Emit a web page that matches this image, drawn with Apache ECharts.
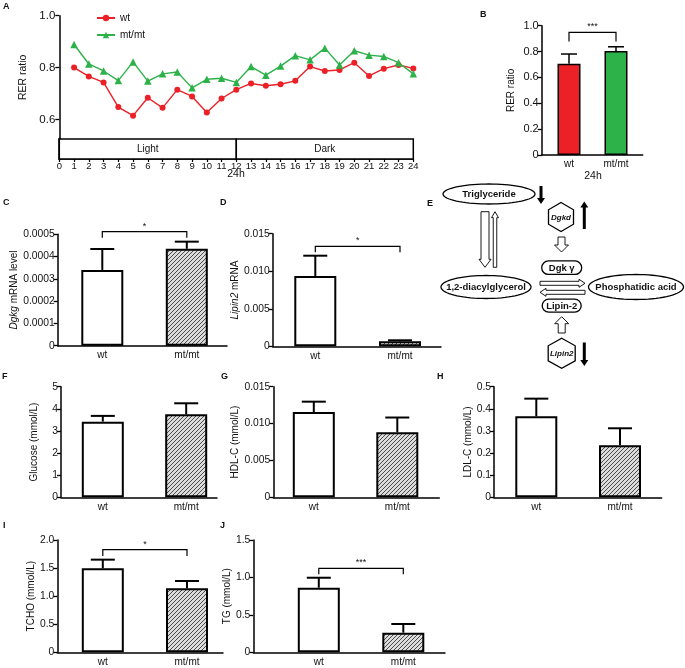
<!DOCTYPE html>
<html><head><meta charset="utf-8">
<script src="https://cdn.jsdelivr.net/npm/echarts@6/dist/echarts.min.js"></script>
<style>html,body{margin:0;padding:0;background:#fff}#c{width:685px;height:668px}</style>
</head><body><div id="c"></div>
<script>
// ---------------- DATA ----------------
const hours = [1,2,3,4,5,6,7,8,9,10,11,12,13,14,15,16,17,18,19,20,21,22,23,24];
const rerWt = [0.800,0.766,0.743,0.648,0.615,0.684,0.645,0.715,0.689,0.627,0.681,0.715,0.739,0.730,0.736,0.749,0.804,0.787,0.791,0.819,0.768,0.796,0.810,0.797];
const rerMt = [0.889,0.814,0.787,0.750,0.822,0.748,0.776,0.783,0.722,0.755,0.759,0.743,0.804,0.771,0.806,0.846,0.830,0.875,0.810,0.865,0.848,0.843,0.819,0.776];
const rerTicks = [0.6, 0.8, 1.0];
const hourTicks = [0,1,2,3,4,5,6,7,8,9,10,11,12,13,14,15,16,17,18,19,20,21,22,23,24];
const phases = ['Light', 'Dark'];
const phaseBounds = [[0, 12], [12, 24]];
const seriesNames = ['wt', 'mt/mt'];
const groups = ['wt', 'mt/mt'];

const rer24Mean = [0.705, 0.804];   const rer24Sem = [0.076, 0.033];
const dgkgMean = [0.00034, 0.000435]; const dgkgSem = [0.000094, 0.000032];
const lipin2Mean = [0.00937, 0.00067]; const lipin2Sem = [0.0027, 0.00013];
const glucoseMean = [3.42, 3.75];   const glucoseSem = [0.26, 0.50];
const hdlMean = [0.01157, 0.00882]; const hdlSem = [0.0014, 0.0020];
const ldlMean = [0.366, 0.235];     const ldlSem = [0.080, 0.077];
const tchoMean = [1.496, 1.14];     const tchoSem = [0.154, 0.13];
const tgMean = [0.863, 0.262];      const tgSem = [0.133, 0.116];

const sigRer24 = {y: 0.949, drop: 0.878, text: '***'};
const sigDgkg = {y: 0.000512, drop: 0.000485, text: '*'};
const sigLipin2 = {y: 0.01332, drop: 0.01252, text: '*'};
const sigTcho = {y: 1.827, drop: 1.715, text: '*'};
const sigTg = {y: 1.121, drop: 1.041, text: '***'};

// ---------------- STYLE ----------------
const FONT = 'Liberation Sans, Arial, sans-serif';
const RED = '#ec2027', GREEN = '#2db24a';
const hatch = document.createElement('canvas');
hatch.width = 4; hatch.height = 4;
(function(){
  const g = hatch.getContext('2d');
  g.fillStyle = '#dcdcdc'; g.fillRect(0,0,4,4);
  g.strokeStyle = '#4a4a4a'; g.lineWidth = 1;
  g.beginPath();
  g.moveTo(0,4); g.lineTo(4,0);
  g.moveTo(-1,1); g.lineTo(1,-1);
  g.moveTo(3,5); g.lineTo(5,3);
  g.stroke();
})();
const HATCH = {image: hatch, repeat: 'repeat'};

const panels = [
  {L:541.7, R:642.7, c1:569, c2:616, top:25.7, y0:155, max:1.0, interval:0.2, dec:1, barW:23, cap:8, bw:1.5,
   name:'RER ratio', gap:25, mean:rer24Mean, sem:rer24Sem, fills:[RED, GREEN], sig:sigRer24, labFs:11, catMargin:4},
  {L:57.7, R:227, c1:102.3, c2:186.8, top:234.3, y0:345.7, max:0.0005, interval:0.0001, dec:4, barW:42, cap:12, bw:2,
   name:'{i|Dgkg} mRNA level', gap:37, mean:dgkgMean, sem:dgkgSem, fills:['#fff', HATCH], sig:sigDgkg},
  {L:272.7, R:441, c1:315.3, c2:400, top:233.7, y0:346.3, max:0.015, interval:0.005, dec:3, barW:42, cap:12, bw:2,
   name:'{i|Lipin2} mRNA', gap:32, mean:lipin2Mean, sem:lipin2Sem, fills:['#fff', HATCH], sig:sigLipin2},
  {L:61, R:217, c1:102.8, c2:186.2, top:386.7, y0:497.3, max:5, interval:1, dec:0, barW:42, cap:12, bw:2,
   name:'Glucose (mmol/L)', gap:22, mean:glucoseMean, sem:glucoseSem, fills:['#fff', HATCH]},
  {L:273.3, R:439.3, c1:313.8, c2:397.3, top:386.7, y0:497.3, max:0.015, interval:0.005, dec:3, barW:42, cap:12, bw:2,
   name:'HDL-C (mmol/L)', gap:26, mean:hdlMean, sem:hdlSem, fills:['#fff', HATCH]},
  {L:494, R:661.7, c1:536.3, c2:620, top:386.7, y0:497.3, max:0.5, interval:0.1, dec:1, barW:42, cap:12, bw:2,
   name:'LDL-C (mmol/L)', gap:17, mean:ldlMean, sem:ldlSem, fills:['#fff', HATCH]},
  {L:57.3, R:223, c1:102.8, c2:187, top:540, y0:652.3, max:2.0, interval:0.5, dec:1, barW:42, cap:12, bw:2,
   name:'TCHO (mmol/L)', gap:19, mean:tchoMean, sem:tchoSem, fills:['#fff', HATCH], sig:sigTcho},
  {L:253.3, R:445, c1:318.8, c2:403.3, top:540, y0:652.3, max:1.5, interval:0.5, dec:1, barW:42, cap:12, bw:2,
   name:'TG (mmol/L)', gap:11, mean:tgMean, sem:tgSem, fills:['#fff', HATCH], sig:sigTg}
];

// ---------------- BUILD ----------------
const grids = [], xAxes = [], yAxes = [], series = [];
const axisLine = {show:true, onZero:false, lineStyle:{color:'#000', width:1.5}};

// Panel A main
grids.push({left:59.3, top:15.7, width:354, height:123.3});
xAxes.push({gridIndex:0, type:'value', min:0, max:24, show:false});
yAxes.push({gridIndex:0, type:'value', min:0.525, max:1.0,
  axisLine:axisLine, splitLine:{show:false},
  axisTick:{show:true, length:4, customValues:rerTicks, lineStyle:{color:'#000', width:1.3}},
  axisLabel:{customValues:rerTicks, formatter:v=>v.toFixed(1), fontSize:11.5, color:'#111', fontFamily:FONT, margin:4},
  name:'RER ratio', nameLocation:'middle', nameGap:26, nameTextStyle:{fontSize:10.5, color:'#111', fontFamily:FONT}});
// Panel A box
grids.push({left:59.3, top:139, width:354, height:20});
xAxes.push({gridIndex:1, type:'value', min:0, max:24, interval:1,
  axisLine:axisLine, splitLine:{show:false},
  axisTick:{show:true, length:3, lineStyle:{color:'#000', width:1.2}},
  axisLabel:{customValues:hourTicks, fontSize:9.5, color:'#111', fontFamily:FONT, margin:2}});
yAxes.push({gridIndex:1, type:'value', min:0, max:1, axisLine:{show:true, lineStyle:{color:'#000', width:2.5}},
  axisTick:{show:false}, axisLabel:{show:false}, splitLine:{show:false}});

series.push({type:'custom', xAxisIndex:1, yAxisIndex:1, silent:true,
  data: phaseBounds.map(b=>[b[0], b[1]]),
  renderItem:(params, api)=>{
    const s = api.coord([api.value(0), 1]), e = api.coord([api.value(1), 0]);
    return {type:'group', children:[
      {type:'rect', shape:{x:s[0], y:s[1], width:e[0]-s[0], height:e[1]-s[1]}, style:{fill:'#fff', stroke:'#000', lineWidth:1.5}},
      {type:'text', x:(s[0]+e[0])/2, y:(s[1]+e[1])/2, style:{text:phases[params.dataIndex], fill:'#111', fontSize:10, fontFamily:FONT, align:'center', verticalAlign:'middle'}}
    ]};
  }});
series.push({name:seriesNames[0], type:'line', xAxisIndex:0, yAxisIndex:0, data:hours.map((h,i)=>[h, rerWt[i]]),
  symbol:'circle', symbolSize:6, lineStyle:{color:RED, width:1.4}, itemStyle:{color:RED}});
series.push({name:seriesNames[1], type:'line', xAxisIndex:0, yAxisIndex:0, data:hours.map((h,i)=>[h, rerMt[i]]),
  symbol:'triangle', symbolSize:7.5, lineStyle:{color:GREEN, width:1.4}, itemStyle:{color:GREEN}});

panels.forEach((p, k)=>{
  const gi = k + 2;
  const sp = p.c2 - p.c1;
  grids.push({left:p.L, top:p.top, width:p.R - p.L, height:p.y0 - p.top});
  xAxes.push({gridIndex:gi, type:'value', min:1 - (p.c1 - p.L)/sp, max:2 + (p.R - p.c2)/sp,
    axisLine:axisLine, axisTick:{show:false}, splitLine:{show:false},
    axisLabel:{customValues:[1,2], formatter:v=>groups[Math.round(v)-1], fontSize:10, color:'#111', fontFamily:FONT, margin:p.catMargin||5}});
  yAxes.push({gridIndex:gi, type:'value', min:0, max:p.max, interval:p.interval,
    axisLine:axisLine, splitLine:{show:false},
    axisTick:{show:true, length:4, lineStyle:{color:'#000', width:1.3}},
    axisLabel:{fontSize:p.labFs||10.3, color:'#111', fontFamily:FONT, margin:3,
      formatter:v=> Math.abs(v) < 1e-12 ? '0' : v.toFixed(p.dec)},
    name:p.name, nameLocation:'middle', nameGap:p.gap,
    nameTextStyle:{fontSize:10, color:'#111', fontFamily:FONT, rich:{i:{fontStyle:'italic', fontSize:10, color:'#111', fontFamily:FONT}}}});
  series.push({type:'bar', xAxisIndex:gi, yAxisIndex:gi, barWidth:p.barW, silent:true,
    data:p.mean.map((m,i)=>({value:[i+1, m], itemStyle:{color:p.fills[i]}})),
    itemStyle:{borderColor:'#000', borderWidth:p.bw}});
  series.push({type:'custom', xAxisIndex:gi, yAxisIndex:gi, silent:true, z:1,
    data:p.mean.map((m,i)=>[i+1, m, p.sem[i]]),
    renderItem:(params, api)=>{
      const a = api.coord([api.value(0), api.value(1)]);
      const b = api.coord([api.value(0), api.value(1) + api.value(2)]);
      return {type:'group', children:[
        {type:'line', shape:{x1:a[0], y1:a[1], x2:b[0], y2:b[1]}, style:{stroke:'#000', lineWidth:p.bw}},
        {type:'line', shape:{x1:b[0]-p.cap, y1:b[1], x2:b[0]+p.cap, y2:b[1]}, style:{stroke:'#000', lineWidth:p.bw}}
      ]};
    }});
  if (p.sig) {
    series.push({type:'custom', xAxisIndex:gi, yAxisIndex:gi, silent:true, clip:false,
      data:[[1, 2, p.sig.y, p.sig.drop]],
      renderItem:(params, api)=>{
        const x1 = api.value(0), x2 = api.value(1), y = api.value(2), d = api.value(3);
        const a = api.coord([x1, d]), b = api.coord([x1, y]), c = api.coord([x2, y]), e = api.coord([x2, d]);
        return {type:'group', children:[
          {type:'polyline', shape:{points:[a,b,c,e]}, style:{stroke:'#000', lineWidth:1.2, fill:null}},
          {type:'text', x:(b[0]+c[0])/2, y:b[1]-1, style:{text:p.sig.text, fill:'#111', fontSize:9, fontFamily:FONT, align:'center', verticalAlign:'bottom'}}
        ]};
      }});
  }
});

// ---------------- DIAGRAM E + TEXT ----------------
function ellipse(cx, cy, rx, ry){
  const pts = [];
  for (let i = 0; i < 72; i++){ const t = 2*Math.PI*i/72; pts.push([cx + rx*Math.cos(t), cy + ry*Math.sin(t)]); }
  return {type:'polygon', shape:{points:pts}, style:{fill:'#fff', stroke:'#000', lineWidth:1.3}};
}
function hexagon(cx, cy, w, h){
  return {type:'polygon', shape:{points:[[cx,cy-h],[cx+w,cy-h/2],[cx+w,cy+h/2],[cx,cy+h],[cx-w,cy+h/2],[cx-w,cy-h/2]]},
    style:{fill:'#fff', stroke:'#000', lineWidth:1.3}};
}
function arrow(x1, y1, x2, y2, sw, hw, hl, filled){
  const L = Math.hypot(x2-x1, y2-y1), dx = (x2-x1)/L, dy = (y2-y1)/L, nx = -dy, ny = dx;
  const sx = x2 - dx*hl, sy = y2 - dy*hl;
  const pts = [
    [x1 + nx*sw/2, y1 + ny*sw/2], [sx + nx*sw/2, sy + ny*sw/2], [sx + nx*hw/2, sy + ny*hw/2], [x2, y2],
    [sx - nx*hw/2, sy - ny*hw/2], [sx - nx*sw/2, sy - ny*sw/2], [x1 - nx*sw/2, y1 - ny*sw/2]];
  return {type:'polygon', shape:{points:pts}, style:filled ? {fill:'#000'} : {fill:'#fff', stroke:'#000', lineWidth:0.9}};
}
function txt(x, y, text, o){
  o = o || {};
  return {type:'text', x:x, y:y, style:{text:text, fill:'#111', fontSize:o.fs||10, fontWeight:o.fw||'normal', fontStyle:o.it?'italic':'normal',
    fontFamily:FONT, align:o.al||'center', verticalAlign:o.va||'middle'}};
}
function rrect(cx, cy, w, h){
  return {type:'rect', shape:{x:cx-w/2, y:cy-h/2, width:w, height:h, r:h/2}, style:{fill:'#fff', stroke:'#000', lineWidth:1.3}};
}

const graphic = [
  txt(3, 2, 'A', {fw:'bold', fs:9, al:'left', va:'top'}),
  txt(480, 10, 'B', {fw:'bold', fs:9, al:'left', va:'top'}),
  txt(3, 198, 'C', {fw:'bold', fs:9, al:'left', va:'top'}),
  txt(220, 198, 'D', {fw:'bold', fs:9, al:'left', va:'top'}),
  txt(427, 199, 'E', {fw:'bold', fs:9, al:'left', va:'top'}),
  txt(2, 372, 'F', {fw:'bold', fs:9, al:'left', va:'top'}),
  txt(221, 372, 'G', {fw:'bold', fs:9, al:'left', va:'top'}),
  txt(437, 372, 'H', {fw:'bold', fs:9, al:'left', va:'top'}),
  txt(3, 521, 'I', {fw:'bold', fs:9, al:'left', va:'top'}),
  txt(220, 521, 'J', {fw:'bold', fs:9, al:'left', va:'top'}),
  txt(236, 174, '24h', {fs:10.5}),
  txt(593, 176, '24h', {fs:10.5}),
  // diagram E
  arrow(485, 211.7, 485, 267.3, 8, 12, 8, false),
  arrow(495, 267.3, 495, 211.7, 3.5, 7, 6, false),
  arrow(540, 283.3, 585, 283.3, 4, 8, 6, false),
  arrow(585, 292.3, 540, 292.3, 4, 8, 6, false),
  arrow(561.5, 237, 561.5, 252, 7, 14, 7, false),
  arrow(561.7, 333, 561.7, 316.7, 7, 14, 7, false),
  ellipse(489, 194, 46, 10), txt(489, 194, 'Triglyceride', {fw:'bold', fs:9.5}),
  ellipse(486, 287, 45, 11.5), txt(486, 287, '1,2-diacylglycerol', {fw:'bold', fs:9.5}),
  ellipse(636, 287, 47.5, 12.5), txt(636, 287, 'Phosphatidic acid', {fw:'bold', fs:9.5}),
  arrow(541, 186, 541, 204, 3, 8, 6, true),
  hexagon(561, 217, 12.5, 14.5), txt(561, 217.5, 'Dgkd', {fw:'bold', it:true, fs:8}),
  arrow(584.3, 229, 584.3, 201.5, 3, 8, 6, true),
  rrect(561.7, 267.7, 40, 13.5), txt(561.7, 268, 'Dgk γ', {fw:'bold', fs:9.5}),
  rrect(561.7, 305.7, 39, 13), txt(561.7, 306, 'Lipin-2', {fw:'bold', fs:9.5}),
  hexagon(561.7, 353.3, 13.5, 15), txt(561.7, 354, 'Lipin2', {fw:'bold', it:true, fs:8}),
  arrow(584.3, 342.5, 584.3, 366, 3, 8, 6, true)
];

const option = {
  animation:false,
  backgroundColor:'#fff',
  textStyle:{fontFamily:FONT},
  legend:{data:seriesNames, orient:'vertical', left:91, top:8, itemWidth:18, itemHeight:8, itemGap:7,
    textStyle:{fontSize:10, color:'#111', fontFamily:FONT}},
  grid:grids, xAxis:xAxes, yAxis:yAxes, series:series, graphic:graphic
};
const chart = echarts.init(document.getElementById('c'), null, {renderer:'canvas'});
chart.setOption(option);
</script></body></html>
